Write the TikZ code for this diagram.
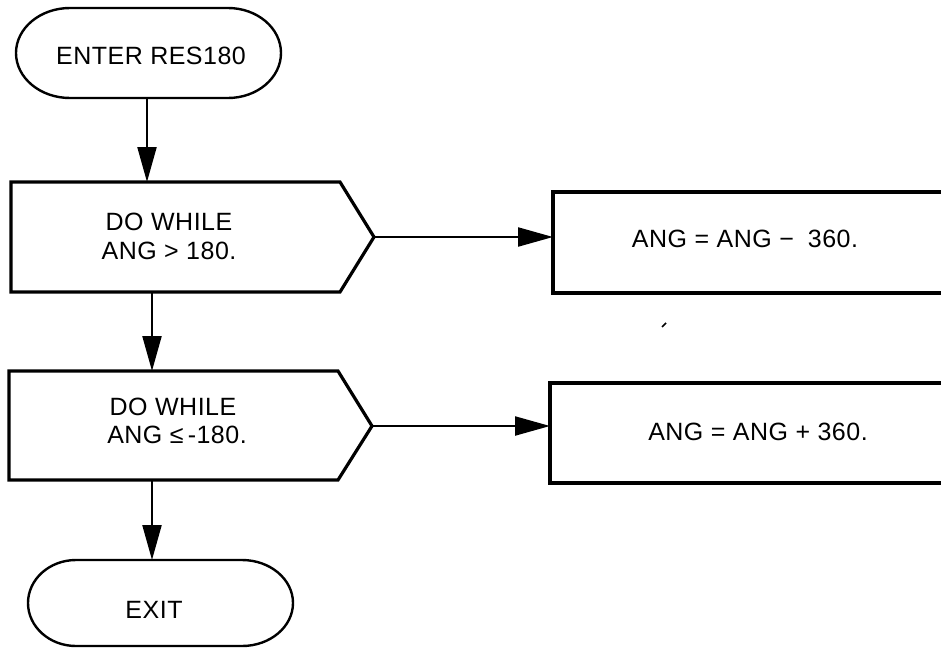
\documentclass[tikz,border=0pt]{standalone}
\usepackage{fontspec}
\setmainfont{Liberation Sans}[LetterSpace=2]
\usetikzlibrary{arrows.meta}
\begin{document}
\begin{tikzpicture}[x=1pt,y=-1pt,
  box/.style={line width=3.2pt, line join=miter},
  term/.style={line width=2.4pt},
  conn/.style={line width=2.2pt, -{Triangle[length=35pt,width=19pt]}},
  txt/.style={font=\fontsize{25}{30}\selectfont, inner sep=0pt, anchor=base}]
\useasboundingbox (0,0) rectangle (941,648);
\clip (0,0) rectangle (941,648);
% start terminal
\draw[term] (70,8) -- (228,8) arc[start angle=90, end angle=-90, x radius=53pt, y radius=45pt]
  -- (70,98) arc[start angle=270, end angle=90, x radius=54pt, y radius=45pt] -- cycle;
\node[txt] (tstart) at (151,64) {ENTER RES180};
\coordinate (startbot) at (147,98);
% do while 1
\draw[box] (11,182) -- (340,182) -- (374,237) -- (340,292) -- (11,292) -- cycle;
\node[txt] (dw1a) at (169,230) {DO WHILE};
\node[txt] (dw1b) at (169,259) {ANG > 180.};
\coordinate (dw1top) at (147,182);
\coordinate (dw1tip) at (374,237);
\coordinate (dw1bot) at (152,292);
% right box 1
\draw[box] (553,192) rectangle (980,293);
\node[txt] (r1) at (745,247) {ANG = ANG −\hspace{14pt}360.};
\coordinate (r1in) at (553,237);
% do while 2
\draw[box] (9,371) -- (338,371) -- (372,426) -- (338,480) -- (9,480) -- cycle;
\node[txt] (dw2a) at (173,415) {DO WHILE};
\node[txt] (dw2b) at (177,443) {ANG ≤\,-180.};
\coordinate (dw2top) at (152,371);
\coordinate (dw2tip) at (372,426);
\coordinate (dw2bot) at (152,480);
% right box 2
\draw[box] (550,383) rectangle (980,483);
\node[txt] (r2) at (758,440) {ANG = ANG + 360.};
\coordinate (r2in) at (550,426);
% exit terminal
\draw[term] (76,560) -- (242,560) arc[start angle=90, end angle=-90, x radius=51pt, y radius=43pt]
  -- (76,646) arc[start angle=270, end angle=90, x radius=48pt, y radius=43pt] -- cycle;
\node[txt] (texit) at (154,618) {EXIT};
\coordinate (exittop) at (152,560);
% connectors
\draw[conn] (startbot) -- (dw1top);
\draw[conn] (dw1bot) -- (dw2top);
\draw[conn] (dw2bot) -- (exittop);
\draw[conn] (dw1tip) -- (r1in);
\draw[conn] (dw2tip) -- (r2in);
% stray mark
\draw[line width=1.5pt] (662,327) -- (666,323);
\end{tikzpicture}
\end{document}
